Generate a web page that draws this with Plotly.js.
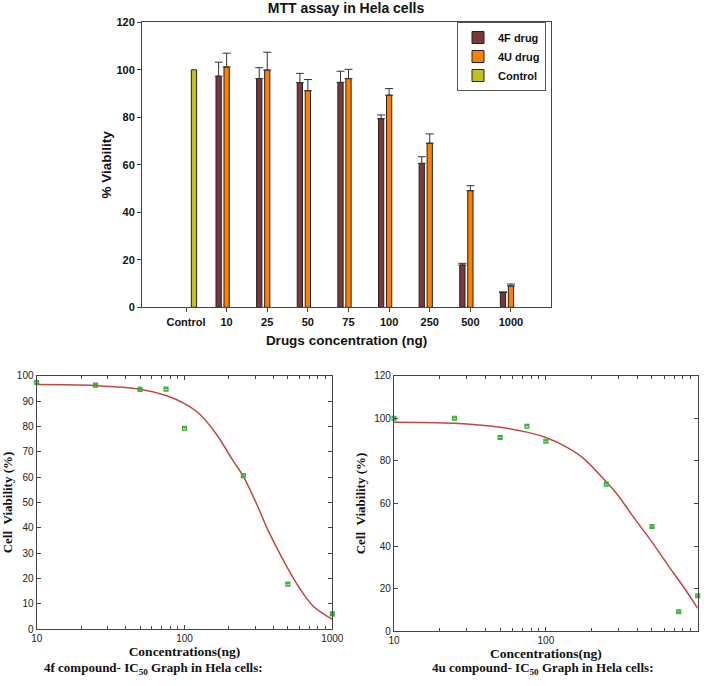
<!DOCTYPE html>
<html>
<head>
<meta charset="utf-8">
<script src="https://cdn.plot.ly/plotly-3.0.1.min.js"></script>
<style>html,body{margin:0;padding:0;background:#fff;}#chart{width:709px;height:686px;}</style>
</head>
<body>
<div id="chart"></div>
<script>
// ---- Top chart: MTT assay bars ----
const categories = ['Control', '10', '25', '50', '75', '100', '250', '500', '1000'];
const drug4F    = [null, 97.3, 96.3, 94.6, 94.7, 79.4, 60.6, 17.8, 6.2];
const drug4FErr = [null, 5.9, 4.6, 3.9, 4.7, 1.6, 2.8, 0.7, 0.3];
const drug4U    = [null, 101.2, 99.9, 91.2, 96.3, 89.3, 69.1, 49.1, 9.0];
const drug4UErr = [null, 5.8, 7.5, 4.7, 3.9, 2.8, 3.9, 2.1, 0.8];
const controlVals = [100, null, null, null, null, null, null, null, null];
const zeroErr   = [0, 0, 0, 0, 0, 0, 0, 0, 0];

// ---- Bottom-left: 4f compound IC50 ----
const conc4f   = [10, 25, 50, 75, 100, 250, 500, 1000];
const viab4f   = [97.3, 96.3, 94.6, 94.7, 79.3, 60.6, 17.8, 6.1];
const fitX4f   = [10, 25, 50, 75, 100, 127, 164, 213, 250, 306, 358, 419, 489, 601, 740, 1000];
const fitY4f   = [96.5, 96.1, 94.7, 92.2, 89.0, 84.8, 77.0, 66.5, 60.3, 49.7, 40.5, 32.4, 25.0, 16.2, 9.2, 3.9];

// ---- Bottom-right: 4u compound IC50 ----
const conc4u   = [10, 25, 50, 75, 100, 250, 500, 750, 1000];
const viab4u   = [100, 100, 91.0, 96.3, 89.2, 69.1, 49.2, 9.2, 16.7];
const fitX4u   = [10, 25, 50, 75, 100, 137, 177, 250, 293, 377, 499, 626, 805, 1000];
const fitY4u   = [98.2, 97.7, 95.8, 93.5, 91.0, 86.5, 81.2, 70.1, 64.6, 53.7, 42.0, 31.8, 20.9, 10.8];

// log-axis ticks
const logMajorVals = [10, 100, 1000];
const logMajorText = ['10', '100', '1000'];
const logMinorVals = [20, 30, 40, 50, 60, 70, 80, 90, 200, 300, 400, 500, 600, 700, 800, 900];

const W = 709, H = 686;
const px = v => v / W;
const py = v => 1 - v / H;

const sans = 'Liberation Sans, Arial, sans-serif';
const narrow = 'Liberation Sans Narrow, Arial Narrow, Liberation Sans, Arial, sans-serif';
const serif = 'Liberation Serif, Times New Roman, serif';
const axisCol = '#444';

const errStyle = {type: 'data', symmetric: false, color: '#333', thickness: 1, width: 4};
const markerStyle = {symbol: 'square-x-open', size: 4, color: '#36b036', line: {width: 1.1, color: '#36b036'}};
const fitLine = {color: '#c04840', width: 1.5, shape: 'spline', smoothing: 1};

const traces = [
  {type: 'bar', name: '4F drug', x: categories, y: drug4F, xaxis: 'x', yaxis: 'y',
   marker: {color: '#7a3a3c', line: {color: '#222', width: 1}},
   error_y: Object.assign({array: drug4FErr, arrayminus: zeroErr}, errStyle)},
  {type: 'bar', name: '4U drug', x: categories, y: drug4U, xaxis: 'x', yaxis: 'y',
   marker: {color: '#ff8000', line: {color: '#222', width: 1}},
   error_y: Object.assign({array: drug4UErr, arrayminus: zeroErr}, errStyle)},
  {type: 'bar', name: 'Control', x: categories, y: controlVals, xaxis: 'x', yaxis: 'y',
   marker: {color: '#c2c21e', line: {color: '#222', width: 1}}},

  {type: 'scatter', mode: 'lines', x: fitX4f, y: fitY4f, xaxis: 'x2', yaxis: 'y2', showlegend: false, line: fitLine},
  {type: 'scatter', mode: 'markers', x: conc4f, y: viab4f, xaxis: 'x2', yaxis: 'y2', showlegend: false,
   cliponaxis: false, marker: markerStyle},

  {type: 'scatter', mode: 'lines', x: fitX4u, y: fitY4u, xaxis: 'x3', yaxis: 'y3', showlegend: false, line: fitLine},
  {type: 'scatter', mode: 'markers', x: conc4u, y: viab4u, xaxis: 'x3', yaxis: 'y3', showlegend: false,
   cliponaxis: false, marker: markerStyle}
];

const botX = (dom, anchor) => ({
  domain: dom, anchor: anchor, type: 'log', range: [1, 3],
  tickmode: 'array', tickvals: logMajorVals, ticktext: logMajorText,
  ticks: 'inside', ticklen: 4, tickcolor: axisCol, mirror: 'ticks',
  minor: {tickmode: 'array', tickvals: logMinorVals, ticks: 'inside', ticklen: 3, tickcolor: axisCol},
  showline: true, linecolor: axisCol, linewidth: 1.3, showgrid: false, zeroline: false,
  tickfont: {family: narrow, size: 10, color: '#222'},
  title: {text: 'Concentrations(ng)', font: {family: serif, size: 13.5, weight: 'bold', color: '#111'}, standoff: 3}
});
const botY = (dom, anchor, rng, dt) => ({
  domain: dom, anchor: anchor, range: rng, dtick: dt, tick0: 0,
  ticks: 'inside', ticklen: 4, tickcolor: axisCol, mirror: 'ticks',
  showline: true, linecolor: axisCol, linewidth: 1.3, showgrid: false, zeroline: false,
  tickfont: {family: narrow, size: 10, color: '#222'},
  title: {text: 'Cell\u00a0\u00a0Viability (%)', font: {family: serif, size: 13, weight: 'bold', color: '#111'}, standoff: 5}
});

const layout = {
  width: W, height: H,
  margin: {l: 0, r: 0, t: 0, b: 0},
  paper_bgcolor: '#fff', plot_bgcolor: '#fff',
  barmode: 'group', bargap: 0.41, bargroupgap: 0.34,
  title: {text: 'MTT assay in Hela cells', font: {family: sans, size: 14, weight: 'bold', color: '#111'},
          x: px(346), xanchor: 'center', y: py(8), yanchor: 'middle'},
  showlegend: true,
  legend: {x: px(457), y: py(22), xanchor: 'left', yanchor: 'top',
           bgcolor: '#fff', bordercolor: '#555', borderwidth: 1,
           font: {family: sans, size: 11, weight: 'bold', color: '#111'}, tracegroupgap: 0},
  xaxis: {domain: [px(142), px(551)], anchor: 'y', type: 'category', range: [-1.083, 8.985],
          showline: true, linecolor: axisCol, linewidth: 1, mirror: true,
          ticks: 'outside', ticklen: 4, tickcolor: axisCol, showgrid: false,
          tickfont: {family: sans, size: 11, weight: 'bold', color: '#111'},
          title: {text: 'Drugs concentration (ng)', font: {family: sans, size: 13.5, weight: 'bold', color: '#111'}, standoff: 9}},
  yaxis: {domain: [py(307.3), py(22.3)], anchor: 'x', range: [0, 120], dtick: 20,
          showline: true, linecolor: axisCol, linewidth: 1, mirror: true,
          ticks: 'outside', ticklen: 4, tickcolor: axisCol, showgrid: false, zeroline: false,
          tickfont: {family: sans, size: 11, weight: 'bold', color: '#111'},
          title: {text: '% Viability', font: {family: sans, size: 13.5, weight: 'bold', color: '#111'}, standoff: 1}},
  xaxis2: botX([px(36.7), px(332.3)], 'y2'),
  yaxis2: botY([py(629.3), py(375.7)], 'x2', [0, 100], 10),
  xaxis3: botX([px(394), px(697.7)], 'y3'),
  yaxis3: botY([py(631.3), py(375.7)], 'x3', [0, 120], 20),
  annotations: [
    {text: '4f compound- IC<sub>50</sub> Graph in Hela cells:', xref: 'paper', yref: 'paper',
     x: px(153), y: py(668), xanchor: 'center', yanchor: 'middle', showarrow: false,
     font: {family: serif, size: 13, weight: 'bold', color: '#111'}},
    {text: '4u compound- IC<sub>50</sub> Graph in Hela cells:', xref: 'paper', yref: 'paper',
     x: px(542.5), y: py(668), xanchor: 'center', yanchor: 'middle', showarrow: false,
     font: {family: serif, size: 13, weight: 'bold', color: '#111'}}
  ]
};

Plotly.newPlot('chart', traces, layout, {displayModeBar: false, responsive: false});
</script>
</body>
</html>
